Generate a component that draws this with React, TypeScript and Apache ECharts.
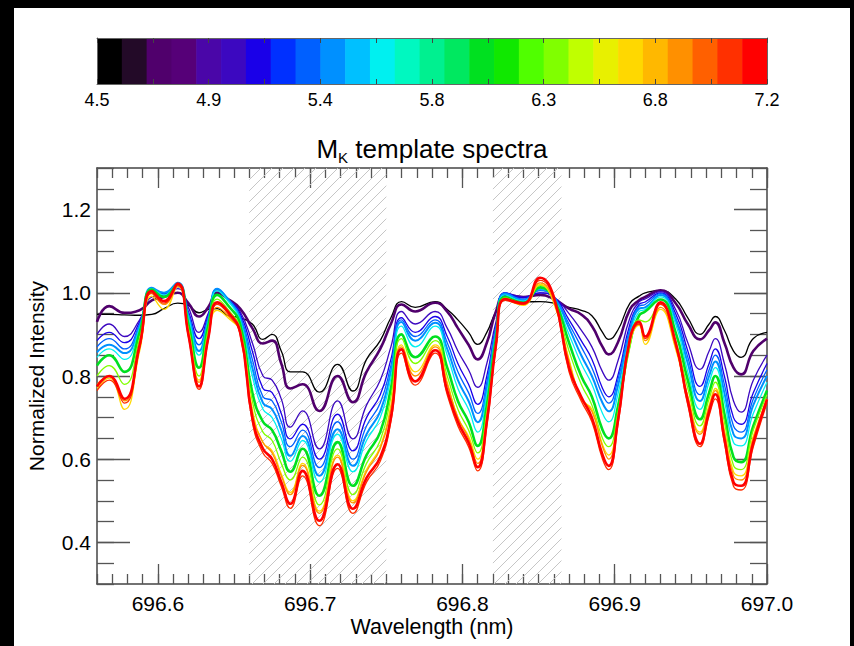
import React, { useEffect, useRef } from "react";
import * as echarts from "echarts";

// ---------- data ----------
const wavelengths = [
  696.560, 696.568, 696.578, 696.588, 696.596, 696.604, 696.613, 696.620, 696.627, 696.633,
  696.639, 696.646, 696.654, 696.662, 696.669, 696.675, 696.681, 696.687, 696.695, 696.706,
  696.718, 696.728, 696.737, 696.746, 696.753, 696.760, 696.769, 696.782, 696.790, 696.797,
  696.804, 696.810, 696.816, 696.822, 696.828, 696.840, 696.851, 696.860, 696.870, 696.878,
  696.885, 696.892, 696.896, 696.902, 696.910, 696.916, 696.920, 696.930, 696.940, 696.948,
  696.956, 696.962, 696.966, 696.972, 696.978, 696.983, 696.991, 697.000,
];

const mkTemplates = [4.5, 4.75, 5.0, 5.15, 5.35, 5.45, 5.65, 6.05, 6.35, 6.65, 6.85, 7.05, 7.15];

const spec450 = [
  .948, .948, .947, .946, .948, .962, .975, .970, .952, .960,
  .962, .945, .940, .925, .888, .900, .860, .810, .810, .761,
  .828, .764, .840, .885, .940, .979, .965, .979, .960, .935,
  .905, .876, .905, .955, .982, .978, .979, .975, .965, .958,
  .945, .905, .888, .910, .975, .992, 1.000, 1.006, .985, .940,
  .900, .925, .943, .910, .860, .845, .890, .905,
];
const spec475 = [
  .930, .968, .952, .958, .982, .990, 1.000, .975, .943, .965,
  1.000, .985, .962, .915, .878, .885, .830, .770, .780, .716,
  .800, .737, .810, .865, .925, .972, .955, .976, .955, .915,
  .875, .840, .880, .955, .995, .990, .995, .985, .962, .948,
  .920, .870, .852, .880, .960, .982, .990, 1.006, .975, .925,
  .888, .910, .929, .880, .820, .804, .860, .890,
];
const spec500 = [
  .900, .925, .895, .935, .990, .995, 1.010, .965, .905, .950,
  1.005, .985, .955, .880, .800, .790, .745, .677, .716, .625,
  .740, .649, .730, .790, .870, .955, .925, .955, .915, .860,
  .815, .773, .830, .930, 1.000, .990, 1.000, .990, .950, .910,
  .870, .810, .790, .835, .940, .978, .985, 1.003, .960, .880,
  .816, .860, .890, .830, .740, .713, .790, .850,
];
const spec515 = [
  .885, .905, .880, .930, 1.000, .998, 1.015, .955, .890, .945,
  1.008, .985, .950, .860, .770, .760, .710, .649, .684, .600,
  .708, .620, .700, .755, .840, .940, .905, .943, .895, .830,
  .780, .732, .800, .920, 1.000, .988, 1.000, .990, .935, .885,
  .840, .770, .750, .800, .925, .972, .978, 1.000, .950, .860,
  .775, .830, .865, .800, .700, .684, .760, .830,
];
const spec535 = [
  .870, .890, .865, .925, 1.008, 1.000, 1.020, .950, .875, .940,
  1.010, .985, .945, .840, .750, .740, .690, .630, .670, .580,
  .690, .600, .680, .735, .825, .935, .895, .935, .880, .810,
  .760, .710, .785, .915, 1.000, .985, 1.005, .990, .925, .870,
  .820, .755, .735, .790, .915, .968, .972, .998, .940, .845,
  .755, .815, .850, .780, .680, .665, .745, .815,
];
const spec545 = [
  .857, .875, .855, .920, 1.012, 1.000, 1.024, .945, .860, .935,
  1.010, .985, .940, .820, .735, .720, .670, .608, .656, .560,
  .672, .584, .660, .715, .810, .930, .885, .928, .865, .790,
  .740, .689, .770, .910, .998, .982, 1.008, .990, .915, .850,
  .800, .735, .715, .775, .905, .962, .965, .995, .935, .830,
  .740, .800, .835, .760, .660, .650, .730, .800,
];
const spec565 = [
  .845, .865, .840, .915, 1.010, .995, 1.022, .940, .850, .930,
  1.005, .980, .935, .800, .720, .700, .650, .595, .645, .545,
  .660, .570, .645, .700, .795, .920, .870, .920, .850, .770,
  .720, .665, .755, .900, .995, .980, 1.010, .985, .900, .830,
  .780, .710, .690, .755, .895, .955, .960, .990, .925, .810,
  .720, .785, .820, .740, .640, .632, .710, .785,
];
const spec605 = [
  .825, .850, .810, .905, 1.008, .990, 1.020, .925, .820, .920,
  .995, .970, .925, .760, .690, .670, .620, .570, .625, .512,
  .641, .536, .610, .665, .770, .900, .845, .895, .820, .740,
  .690, .632, .730, .890, .990, .976, 1.013, .985, .880, .800,
  .750, .670, .650, .725, .880, .945, .955, .984, .905, .790,
  .696, .760, .800, .710, .605, .593, .680, .765,
];
const spec635 = [
  .800, .825, .780, .890, 1.000, .980, 1.018, .915, .800, .910,
  .985, .960, .915, .740, .665, .645, .590, .550, .605, .490,
  .625, .515, .590, .645, .750, .890, .830, .885, .800, .720,
  .670, .615, .715, .880, .988, .975, 1.018, .980, .860, .780,
  .730, .650, .630, .710, .870, .935, .930, .975, .885, .770,
  .680, .745, .785, .690, .585, .575, .670, .755,
];
const spec665 = [
  .770, .795, .720, .860, .992, .960, 1.015, .910, .790, .895,
  .958, .940, .905, .720, .640, .620, .565, .520, .590, .475,
  .610, .500, .575, .630, .730, .875, .810, .875, .785, .700,
  .655, .600, .705, .870, .985, .970, 1.020, .975, .840, .745,
  .720, .635, .610, .700, .880, .922, .876, .960, .865, .750,
  .665, .730, .770, .670, .570, .560, .655, .745,
];
const spec685 = [
  .780, .800, .740, .870, .998, .972, 1.018, .905, .785, .895,
  .965, .945, .905, .710, .640, .615, .560, .515, .585, .470,
  .605, .495, .570, .625, .720, .870, .800, .870, .780, .700,
  .650, .590, .700, .870, .985, .972, 1.024, .980, .835, .745,
  .715, .630, .600, .700, .885, .925, .885, .965, .870, .750,
  .660, .725, .765, .665, .560, .550, .650, .745,
];
const spec705 = [
  .765, .790, .735, .865, 1.000, .975, 1.018, .895, .768, .885,
  .972, .950, .900, .690, .615, .590, .535, .482, .560, .440,
  .578, .470, .545, .595, .690, .855, .778, .855, .755, .680,
  .630, .572, .680, .870, .982, .972, 1.030, .985, .810, .740,
  .690, .600, .575, .680, .885, .925, .890, .972, .875, .730,
  .630, .705, .745, .640, .535, .526, .630, .735,
];
const spec715 = [
  .775, .800, .745, .875, 1.004, .980, 1.022, .900, .775, .890,
  .977, .955, .905, .700, .625, .600, .545, .493, .572, .452,
  .588, .481, .555, .605, .700, .864, .787, .862, .765, .690,
  .640, .581, .690, .875, .985, .975, 1.036, .990, .820, .750,
  .700, .610, .584, .690, .890, .930, .895, .977, .880, .740,
  .637, .715, .756, .650, .545, .536, .640, .744,
];

const spectra = [spec450, spec475, spec500, spec515, spec535, spec545, spec565, spec605, spec635, spec665, spec685, spec705, spec715];

// colour bar (M_K scale)
const colorbarMin = 4.5;
const colorbarMax = 7.2;
const colorbarStep = 0.1;
const colorbarColors = [
  "#000000", "#230a28", "#50006c", "#560078", "#4a06a8", "#3c08c0", "#1a00e8", "#0030ff", "#0060ff",
  "#0090ff", "#00c0ff", "#00f0f0", "#00f8c0", "#00f090", "#00e860", "#00e020", "#10e800", "#50ff00",
  "#80ff00", "#c0ff00", "#e8f000", "#ffd800", "#ffb800", "#ff9000", "#ff6000", "#ff3000", "#ff0000",
];
const colorbarTickValues = [4.5, 4.95, 5.4, 5.85, 6.3, 6.75, 7.2];
const colorbarTickLabels = ["4.5", "4.9", "5.4", "5.8", "6.3", "6.8", "7.2"];

// axes
const xMin = 696.56;
const xMax = 697.0;
const xMajorTicks = [696.6, 696.7, 696.8, 696.9, 697.0];
const xTickLabels = ["696.6", "696.7", "696.8", "696.9", "697.0"];
const yMin = 0.3;
const yMax = 1.3;
const yMajorTicks = [0.4, 0.6, 0.8, 1.0, 1.2];
const yTickLabels = ["0.4", "0.6", "0.8", "1.0", "1.2"];

// hatched wavelength windows
const hatchRanges = [
  [696.66, 696.75],
  [696.82, 696.865],
];

// ---------- styles ----------
const FONT = "'Liberation Sans', Arial, Helvetica, sans-serif";
const FRAME = { show: true, onZero: false, lineStyle: { color: "#444", width: 1.5 } };
const TICK_STYLE = { color: "#555", width: 1.3 };
const thickWidths: Record<string, number> = { "4.75": 2.6, "6.05": 2.6, "7.15": 2.6, "5.45": 2.0 };

function colorForMk(mk: number) {
  const i = Math.min(colorbarColors.length - 1, Math.max(0, Math.floor((mk - colorbarMin) / colorbarStep + 1e-9)));
  return colorbarColors[i];
}

function lookupLabel(values: number[], labels: string[]) {
  return (v: number) => {
    for (let i = 0; i < values.length; i++) if (Math.abs(values[i] - v) < 1e-6) return labels[i];
    return "";
  };
}

function makeHatch() {
  const s = 11;
  const c = document.createElement("canvas");
  c.width = s;
  c.height = s;
  const ctx = c.getContext("2d")!;
  ctx.strokeStyle = "#c6c6c6";
  ctx.lineWidth = 1;
  ctx.beginPath();
  ctx.moveTo(0, s);
  ctx.lineTo(s, 0);
  ctx.moveTo(-2, 2);
  ctx.lineTo(2, -2);
  ctx.moveTo(s - 2, s + 2);
  ctx.lineTo(s + 2, s - 2);
  ctx.stroke();
  return { image: c, repeat: "repeat", imageWidth: s, imageHeight: s } as any;
}

export default function App() {
  const ref = useRef<HTMLDivElement>(null);

  useEffect(() => {
    const chart = echarts.init(ref.current!, null, { renderer: "svg" });
    const hatch = makeHatch();

    const xMain = { type: "value", gridIndex: 0, min: xMin, max: xMax, splitLine: { show: false } };
    const yMain = { type: "value", gridIndex: 0, min: yMin, max: yMax, splitLine: { show: false } };
    const cbX = { type: "value", gridIndex: 1, min: colorbarMin, max: colorbarMax, interval: 0.225, splitLine: { show: false }, z: 10 };
    const cbY = { type: "value", gridIndex: 1, min: 0, max: 1, splitLine: { show: false }, axisTick: { show: false }, axisLabel: { show: false }, z: 10 };
    const cbLine = { show: true, onZero: false, lineStyle: { color: "#666", width: 1 } };

    const lineSeries = spectra.map((vals, k) => {
      const mk = mkTemplates[k];
      const s: any = {
        type: "line",
        name: "MK " + mk,
        xAxisIndex: 0,
        yAxisIndex: 0,
        data: wavelengths.map((w, i) => [w, vals[i]]),
        showSymbol: false,
        symbol: "none",
        smooth: 0.5,
        silent: true,
        clip: true,
        z: 3,
        lineStyle: { color: colorForMk(mk), width: thickWidths[String(mk)] || 1.3 },
      };
      if (k === 0) {
        s.markArea = {
          silent: true,
          itemStyle: { color: hatch, borderWidth: 0 },
          data: hatchRanges.map(([a, b]) => [{ xAxis: a }, { xAxis: b }]),
        };
      }
      return s;
    });

    const option: any = {
      animation: false,
      backgroundColor: "#ffffff",
      textStyle: { fontFamily: FONT },
      grid: [
        { left: 97, top: 168, width: 670, height: 416 },
        { left: 97, top: 38, width: 670, height: 46 },
      ],
      xAxis: [
        {
          ...xMain,
          position: "bottom",
          axisLine: FRAME,
          axisTick: { show: true, inside: true, length: 20, customValues: xMajorTicks, lineStyle: TICK_STYLE },
          axisLabel: {
            show: true,
            customValues: xMajorTicks,
            formatter: lookupLabel(xMajorTicks, xTickLabels),
            margin: 9,
            fontSize: 21,
            color: "#000",
            fontFamily: FONT,
          },
        },
        {
          ...xMain,
          position: "bottom",
          interval: 0.01,
          axisLine: { show: false, onZero: false },
          axisTick: { show: true, inside: true, length: 10, lineStyle: TICK_STYLE },
          axisLabel: { show: false },
        },
        {
          ...xMain,
          position: "top",
          axisLine: FRAME,
          axisTick: { show: true, inside: true, length: 20, customValues: xMajorTicks, lineStyle: TICK_STYLE },
          axisLabel: { show: false },
        },
        {
          ...xMain,
          position: "top",
          interval: 0.01,
          axisLine: { show: false, onZero: false },
          axisTick: { show: true, inside: true, length: 10, lineStyle: TICK_STYLE },
          axisLabel: { show: false },
        },
        {
          ...cbX,
          position: "bottom",
          axisLine: cbLine,
          axisTick: { show: true, inside: true, length: 5, lineStyle: { color: "#444", width: 1 } },
          axisLabel: {
            show: true,
            customValues: colorbarTickValues,
            formatter: lookupLabel(colorbarTickValues, colorbarTickLabels),
            margin: 7,
            fontSize: 18,
            color: "#000",
            fontFamily: FONT,
          },
        },
        {
          ...cbX,
          position: "top",
          axisLine: cbLine,
          axisTick: { show: true, inside: true, length: 5, lineStyle: { color: "#444", width: 1 } },
          axisLabel: { show: false },
        },
      ],
      yAxis: [
        {
          ...yMain,
          position: "left",
          axisLine: FRAME,
          axisTick: { show: true, inside: true, length: 33, customValues: yMajorTicks, lineStyle: TICK_STYLE },
          axisLabel: {
            show: true,
            customValues: yMajorTicks,
            formatter: lookupLabel(yMajorTicks, yTickLabels),
            margin: 6,
            fontSize: 21,
            color: "#000",
            fontFamily: FONT,
          },
        },
        {
          ...yMain,
          position: "left",
          interval: 0.05,
          axisLine: { show: false, onZero: false },
          axisTick: { show: true, inside: true, length: 17, lineStyle: TICK_STYLE },
          axisLabel: { show: false },
        },
        {
          ...yMain,
          position: "right",
          axisLine: FRAME,
          axisTick: { show: true, inside: true, length: 33, customValues: yMajorTicks, lineStyle: TICK_STYLE },
          axisLabel: { show: false },
        },
        {
          ...yMain,
          position: "right",
          interval: 0.05,
          axisLine: { show: false, onZero: false },
          axisTick: { show: true, inside: true, length: 17, lineStyle: TICK_STYLE },
          axisLabel: { show: false },
        },
        { ...cbY, position: "left", axisLine: cbLine },
        { ...cbY, position: "right", axisLine: cbLine },
      ],
      series: [
        {
          type: "custom",
          xAxisIndex: 4,
          yAxisIndex: 4,
          silent: true,
          z: 1,
          data: colorbarColors.map((_, i) => [
            colorbarMin + i * colorbarStep,
            Math.min(colorbarMax, colorbarMin + (i + 1) * colorbarStep),
            i,
          ]),
          encode: { x: [0, 1] },
          renderItem: (_params: any, api: any) => {
            const p0 = api.coord([api.value(0), 1]);
            const p1 = api.coord([api.value(1), 0]);
            return {
              type: "rect",
              shape: { x: p0[0], y: p0[1], width: p1[0] - p0[0] + 0.6, height: p1[1] - p0[1] },
              style: { fill: colorbarColors[api.value(2)] },
            };
          },
        },
        ...lineSeries,
      ],
      graphic: [
        { type: "rect", silent: true, z: 100, shape: { x: 0, y: 0, width: 854, height: 8 }, style: { fill: "#000" } },
        { type: "rect", silent: true, z: 100, shape: { x: 0, y: 0, width: 14, height: 646 }, style: { fill: "#000" } },
        { type: "rect", silent: true, z: 100, shape: { x: 850, y: 0, width: 4, height: 646 }, style: { fill: "#000" } },
        {
          type: "text",
          x: 432,
          y: 149,
          silent: true,
          style: {
            text: "{m|M}{k|K}{m| template spectra}",
            align: "center",
            verticalAlign: "middle",
            fill: "#000",
            fontFamily: FONT,
            rich: {
              m: { fontSize: 26, lineHeight: 32, verticalAlign: "middle", fontFamily: FONT, fill: "#000" },
              k: { fontSize: 15, lineHeight: 15, verticalAlign: "bottom", fontFamily: FONT, fill: "#000" },
            },
          },
        },
        {
          type: "text",
          x: 432,
          y: 627,
          silent: true,
          style: { text: "Wavelength (nm)", fontSize: 21.5, fontFamily: FONT, fill: "#000", align: "center", verticalAlign: "middle" },
        },
        {
          type: "text",
          x: 36,
          y: 376,
          rotation: Math.PI / 2,
          silent: true,
          style: { text: "Normalized Intensity", fontSize: 21, fontFamily: FONT, fill: "#000", align: "center", verticalAlign: "middle" },
        },
      ],
    };

    chart.setOption(option);
    return () => chart.dispose();
  }, []);

  return <div ref={ref} style={{ position: "absolute", left: 0, top: 0, width: 854, height: 646 }} />;
}
